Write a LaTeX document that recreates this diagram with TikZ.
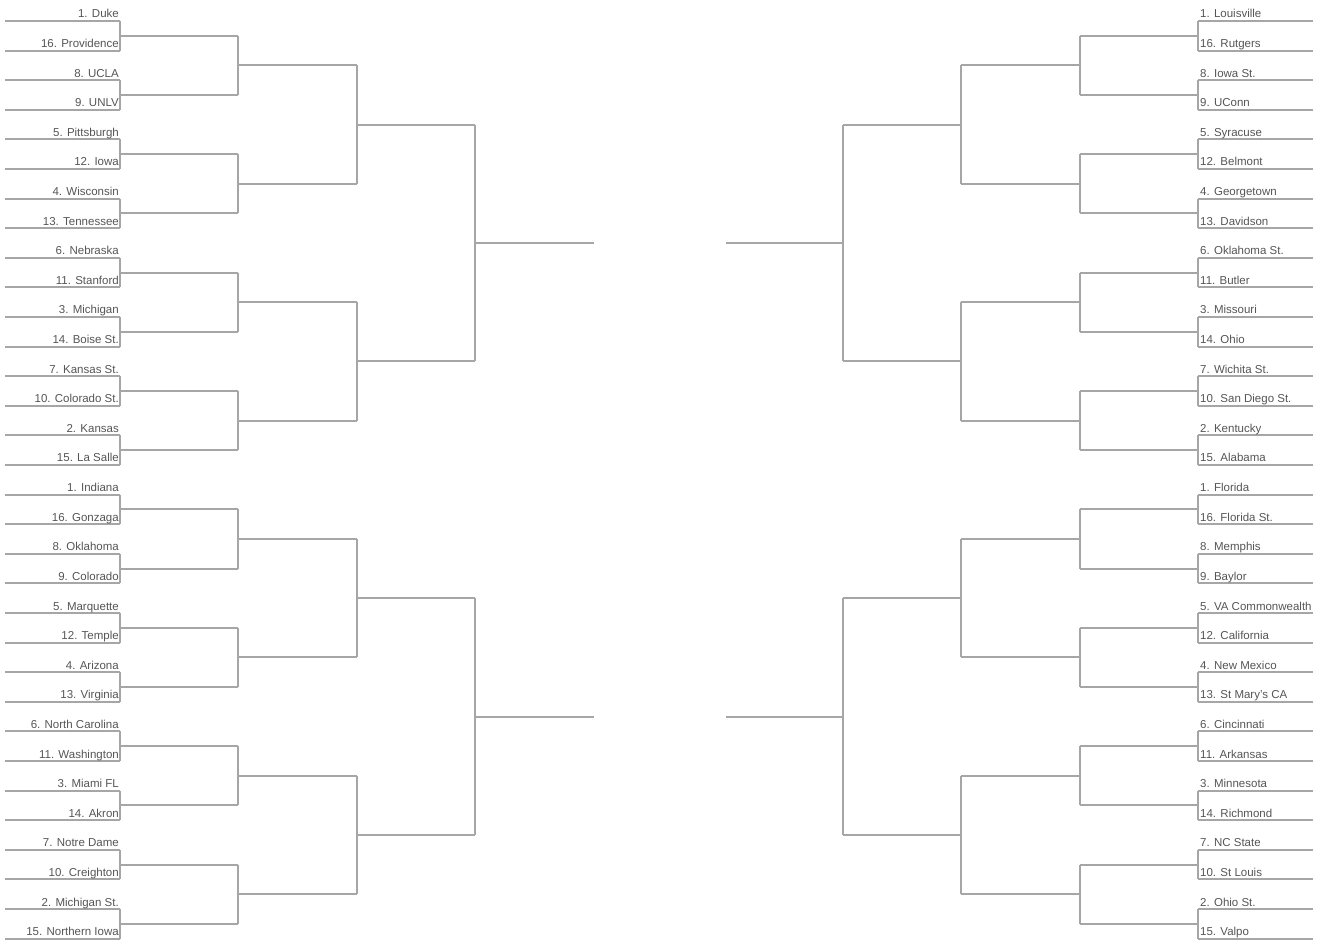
\documentclass[tikz,border=0pt]{standalone}
\usepackage{fontspec}
\setmainfont{Liberation Sans}
\definecolor{bl}{HTML}{A6A6A6}
\definecolor{tx}{HTML}{555555}
\tikzset{
  bline/.style={draw=bl,line width=2pt,line cap=square},
  lteam/.style={anchor=base east,inner sep=0pt,text=tx,font=\fontsize{11.5}{12}\selectfont},
  rteam/.style={anchor=base west,inner sep=0pt,text=tx,font=\fontsize{11.5}{12}\selectfont}
}
\begin{document}
\begin{tikzpicture}[x=1pt,y=-1pt]
\useasboundingbox (0,0) rectangle (1318,949);
% ---------- team slots ----------
\foreach \i/\n in {0/{1. Duke},1/{16. Providence},2/{8. UCLA},3/{9. UNLV},4/{5. Pittsburgh},5/{12. Iowa},6/{4. Wisconsin},7/{13. Tennessee},
 8/{6. Nebraska},9/{11. Stanford},10/{3. Michigan},11/{14. Boise St.},12/{7. Kansas St.},13/{10. Colorado St.},14/{2. Kansas},15/{15. La Salle},
 16/{1. Indiana},17/{16. Gonzaga},18/{8. Oklahoma},19/{9. Colorado},20/{5. Marquette},21/{12. Temple},22/{4. Arizona},23/{13. Virginia},
 24/{6. North Carolina},25/{11. Washington},26/{3. Miami FL},27/{14. Akron},28/{7. Notre Dame},29/{10. Creighton},30/{2. Michigan St.},31/{15. Northern Iowa}}{
  \pgfmathsetmacro\yy{21+29.6*\i}
  \coordinate (LA\i) at (5,\yy);
  \coordinate (LB\i) at (120,\yy);
  \draw[bline] (LA\i) -- (LB\i);
  \node[lteam] (LT\i) at (119,\yy-3) {\n};
}
\foreach \i/\n in {0/{1. Louisville},1/{16. Rutgers},2/{8. Iowa St.},3/{9. UConn},4/{5. Syracuse},5/{12. Belmont},6/{4. Georgetown},7/{13. Davidson},
 8/{6. Oklahoma St.},9/{11. Butler},10/{3. Missouri},11/{14. Ohio},12/{7. Wichita St.},13/{10. San Diego St.},14/{2. Kentucky},15/{15. Alabama},
 16/{1. Florida},17/{16. Florida St.},18/{8. Memphis},19/{9. Baylor},20/{5. VA Commonwealth},21/{12. California},22/{4. New Mexico},23/{13. St Mary's CA},
 24/{6. Cincinnati},25/{11. Arkansas},26/{3. Minnesota},27/{14. Richmond},28/{7. NC State},29/{10. St Louis},30/{2. Ohio St.},31/{15. Valpo}}{
  \pgfmathsetmacro\yy{21+29.6*\i}
  \coordinate (RA\i) at (1313,\yy);
  \coordinate (RB\i) at (1198,\yy);
  \draw[bline] (RA\i) -- (RB\i);
  \node[rteam] (RT\i) at (1200,\yy-3) {\n};
}
% ---------- round 1 ----------
\foreach \k in {0,...,15}{
  \pgfmathtruncatemacro\a{2*\k}
  \pgfmathtruncatemacro\b{2*\k+1}
  \pgfmathsetmacro\yy{21+29.6*(2*\k+0.5)}
  \coordinate (L1s\k) at (120,\yy); \coordinate (L1e\k) at (238,\yy);
  \coordinate (R1s\k) at (1198,\yy); \coordinate (R1e\k) at (1080,\yy);
  \draw[bline] (LB\a) -- (LB\b); \draw[bline] (L1s\k) -- (L1e\k);
  \draw[bline] (RB\a) -- (RB\b); \draw[bline] (R1s\k) -- (R1e\k);
}
% ---------- round 2 ----------
\foreach \k in {0,...,7}{
  \pgfmathtruncatemacro\a{2*\k}
  \pgfmathtruncatemacro\b{2*\k+1}
  \pgfmathsetmacro\yy{21+29.6*(4*\k+1.5)}
  \coordinate (L2s\k) at (238,\yy); \coordinate (L2e\k) at (357,\yy);
  \coordinate (R2s\k) at (1080,\yy); \coordinate (R2e\k) at (961,\yy);
  \draw[bline] (L1e\a) -- (L1e\b); \draw[bline] (L2s\k) -- (L2e\k);
  \draw[bline] (R1e\a) -- (R1e\b); \draw[bline] (R2s\k) -- (R2e\k);
}
% ---------- round 3 ----------
\foreach \k in {0,...,3}{
  \pgfmathtruncatemacro\a{2*\k}
  \pgfmathtruncatemacro\b{2*\k+1}
  \pgfmathsetmacro\yy{21+29.6*(8*\k+3.5)}
  \coordinate (L3s\k) at (357,\yy); \coordinate (L3e\k) at (475,\yy);
  \coordinate (R3s\k) at (961,\yy); \coordinate (R3e\k) at (843,\yy);
  \draw[bline] (L2e\a) -- (L2e\b); \draw[bline] (L3s\k) -- (L3e\k);
  \draw[bline] (R2e\a) -- (R2e\b); \draw[bline] (R3s\k) -- (R3e\k);
}
% ---------- round 4 ----------
\foreach \k in {0,1}{
  \pgfmathtruncatemacro\a{2*\k}
  \pgfmathtruncatemacro\b{2*\k+1}
  \pgfmathsetmacro\yy{21+29.6*(16*\k+7.5)}
  \coordinate (L4s\k) at (475,\yy); \coordinate (L4e\k) at (594,\yy);
  \coordinate (R4s\k) at (843,\yy); \coordinate (R4e\k) at (726,\yy);
  \draw[bline] (L3e\a) -- (L3e\b); \draw[bline] (L4s\k) -- (L4e\k);
  \draw[bline] (R3e\a) -- (R3e\b); \draw[bline] (R4s\k) -- (R4e\k);
}
\end{tikzpicture}
\end{document}
